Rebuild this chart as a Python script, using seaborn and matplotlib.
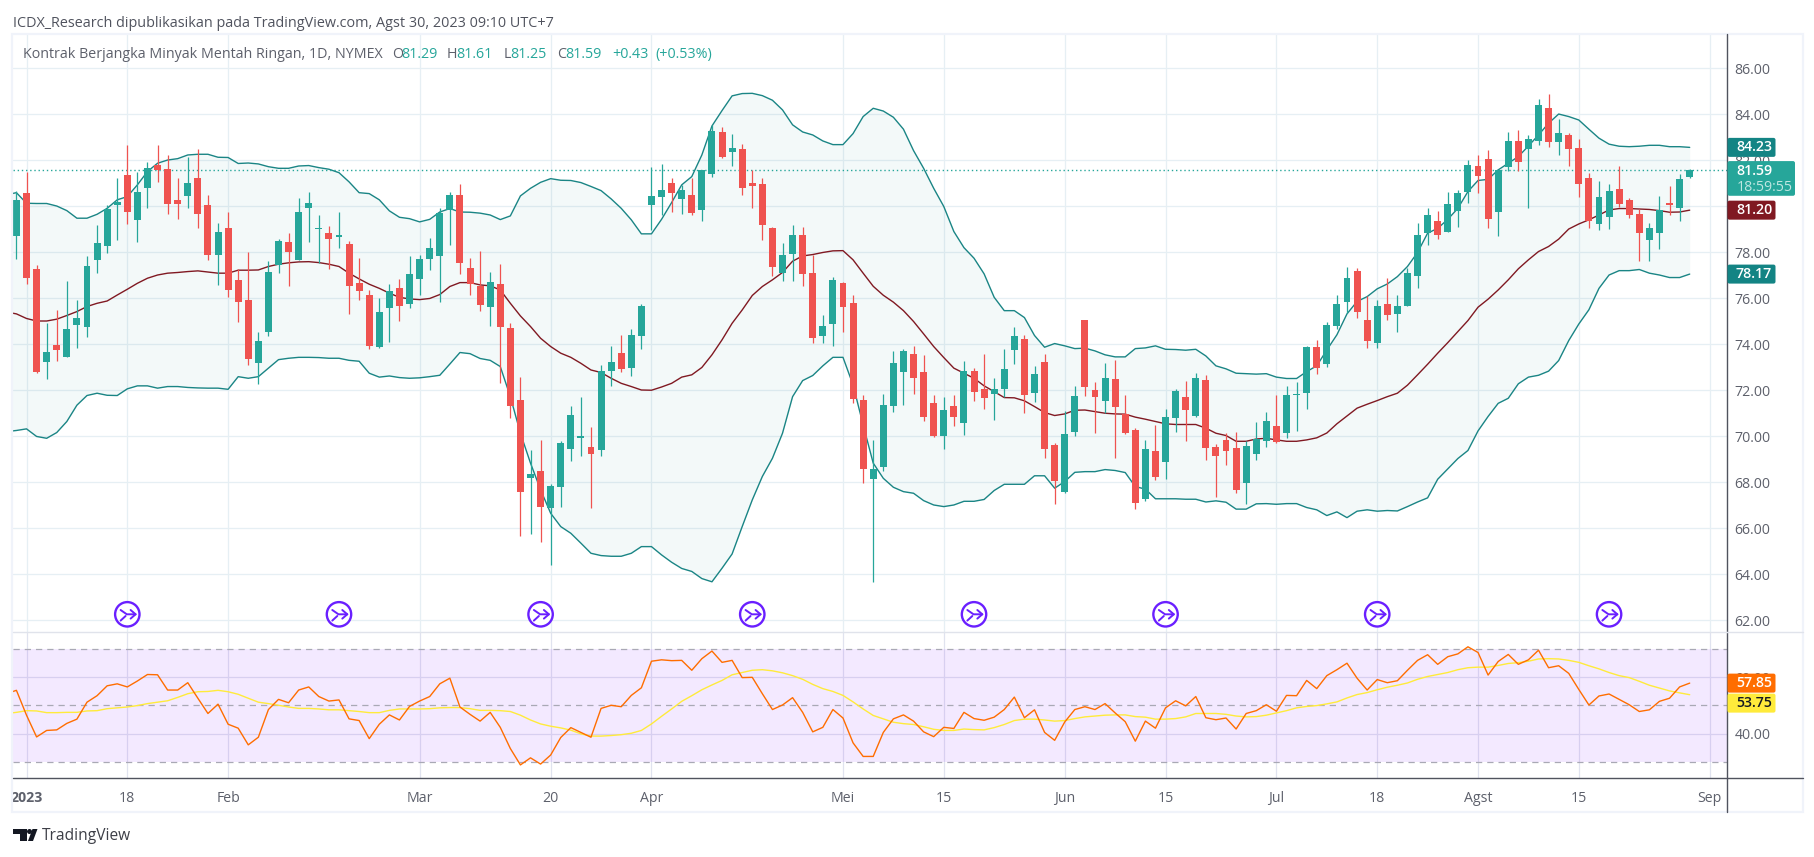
import matplotlib
matplotlib.use("Agg")
import matplotlib.pyplot as plt
import seaborn as sns
import pandas as pd
from matplotlib.patches import Rectangle, FancyBboxPatch, Circle, Polygon

sns.set_theme(style="white")
plt.rcParams["font.family"] = ["Open Sans", "DejaVu Sans"]

OPEN = [78.71,80.57,77.26,73.23,73.97,73.45,74.84,74.75,77.67,78.28,80.06,81.36,79.41,80.8,81.8,81.62,80.28,80.45,81.23,80.06,
77.88,79.06,76.8,75.93,73.19,74.54,77.45,78.45,77.67,79.93,79.02,78.84,78.67,78.36,76.67,76.14,73.88,75.58,76.45,75.75,
76.84,77.71,77.84,79.84,80.49,77.32,76.54,75.62,76.62,74.71,71.58,68.19,68.49,66.88,67.8,69.45,69.94,69.54,69.41,72.84,
73.62,72.97,74.36,80.06,80.41,81.01,80.32,80.49,79.84,81.41,83.23,82.36,82.49,81.01,80.97,79.06,77.1,77.93,78.75,77.1,
74.36,74.88,76.67,75.8,71.58,68.14,68.67,71.32,72.8,73.58,72.8,71.45,70.01,71.32,70.58,72.84,72.06,71.84,72.06,73.75,
74.23,71.88,73.23,69.62,67.58,70.19,75.06,72.01,71.54,72.49,70.97,70.28,67.28,69.36,68.88,70.8,71.71,70.88,72.45,69.54,
69.84,69.49,67.97,69.23,69.8,70.45,70.14,71.8,71.88,73.88,73.14,74.8,75.84,77.19,75.06,74.06,75.75,75.32,75.67,76.97,
78.84,79.36,78.88,79.8,80.62,81.75,82.06,79.75,81.71,82.84,82.49,82.84,84.28,82.8,83.1,82.54,81.23,79.23,79.54,80.75,
80.28,79.67,78.54,78.84,80.14,79.93,81.29]
HIGH = [80.68,81.51,77.43,74.94,75.49,76.75,75.93,77.84,79.19,80.06,81.23,82.67,81.51,81.91,82.67,82.23,81.23,82.16,82.49,80.49,
79.28,79.75,77.26,78.01,74.54,77.61,78.59,78.84,80.36,80.62,79.62,79.14,79.75,78.49,77.75,76.36,76.01,76.62,76.84,77.84,
77.88,78.62,79.93,80.62,80.97,77.75,78.06,77.14,77.49,74.93,72.58,69.41,69.84,67.93,69.8,71.32,71.71,70.41,73.1,73.93,
74.41,74.67,75.74,81.71,81.84,81.23,80.93,81.23,81.57,83.54,83.45,83.14,82.71,81.57,81.23,79.1,78.41,79.19,79.1,77.88,
75.28,76.93,76.71,76.14,71.8,69.84,71.84,73.71,73.8,73.93,73.54,71.8,71.71,71.8,73.28,72.97,73.58,72.54,73.8,74.75,
74.41,73.07,73.58,69.71,71.1,72.19,75.06,72.36,73.19,73.32,71.8,70.36,69.84,70.49,71.19,72.06,72.41,72.74,72.67,69.67,
70.13,70.19,69.8,70.62,71.06,71.8,72.19,72.36,73.93,74.19,74.97,76.14,77.36,77.32,76.1,75.93,76.88,76.14,77.32,79.28,
79.93,79.8,80.62,80.71,82.01,82.23,82.45,81.57,83.23,83.32,83.1,84.67,84.88,83.8,83.19,82.93,81.45,81.1,80.97,81.75,
80.36,79.88,79.28,80.45,80.88,81.41,81.61]
LOW = [77.72,76.62,72.77,72.49,73.28,73.45,73.84,74.32,77.09,77.96,78.54,79.23,78.45,79.93,81.06,79.67,79.45,79.93,79.06,77.67,
76.58,76.07,74.97,73.1,72.28,74.36,77.09,76.54,77.67,78.45,77.52,77.28,78.19,75.32,75.93,73.8,73.84,74.1,75.01,75.58,
76.14,77.23,75.84,78.32,77.06,76.14,75.45,74.8,72.32,70.8,65.67,65.75,65.41,64.41,66.93,68.93,69.14,66.86,69.14,72.19,
72.8,72.62,73.8,78.97,79.62,79.75,79.65,79.62,79.36,81.28,82.1,81.75,80.49,79.93,78.54,76.97,76.75,76.75,76.54,74.06,
74.06,73.93,74.54,71.45,67.97,63.67,68.49,71.06,71.36,71.84,70.67,69.97,69.45,70.45,70.06,71.54,71.19,70.71,71.71,73.14,
71.01,71.49,69.06,67.06,67.54,70.01,71.75,70.14,71.01,69.06,70.1,66.84,67.19,68.1,68.14,70.19,69.8,70.84,68.97,67.36,
68.75,67.54,67.06,68.97,69.54,69.71,69.93,70.23,71.19,72.71,73.01,74.67,75.35,75.14,73.84,73.84,75.06,74.54,75.67,76.45,
78.32,78.58,78.88,79.1,80.14,80.58,79.06,78.71,81.54,81.54,79.93,82.67,82.58,82.23,81.75,80.41,79.06,78.97,79.01,79.97,
79.49,77.62,77.62,78.14,79.62,79.36,81.25]
CLOSE = [80.28,76.90,72.81,73.67,73.75,74.67,75.14,77.41,78.41,79.88,80.19,79.75,80.62,81.67,81.58,80.1,80.1,81.01,79.67,77.88,
78.88,76.36,75.84,73.36,74.14,77.14,78.49,78.01,79.75,80.14,79.06,78.58,78.75,76.54,76.32,73.93,75.41,76.32,75.67,77.06,
77.71,78.19,79.71,80.49,77.54,76.62,75.71,76.71,74.75,71.32,67.58,68.36,66.93,67.84,69.71,70.93,69.97,69.23,72.84,73.23,
72.93,74.41,75.67,80.45,80.71,80.58,80.71,79.71,81.57,83.28,82.14,82.54,80.8,80.88,79.19,77.36,77.88,78.75,77.06,74.28,
74.8,76.8,75.62,71.62,68.58,68.58,71.36,73.19,73.71,72.54,70.84,70.01,71.14,70.84,72.84,71.93,71.67,72.06,72.93,74.36,
71.8,72.71,69.45,68.06,70.1,71.75,72.14,71.71,72.54,71.28,70.14,67.1,69.45,68.23,70.84,71.97,71.14,72.54,69.49,69.14,
69.36,67.67,69.58,69.88,70.67,69.75,71.8,71.83,73.88,72.97,74.84,75.75,76.88,75.41,74.14,75.67,75.28,75.67,77.1,78.75,
79.62,78.75,80.1,80.58,81.8,81.32,79.45,81.57,82.84,81.93,82.93,84.41,82.8,83.19,82.49,80.97,79.36,80.41,80.67,80.1,
79.62,78.84,79.06,79.84,80.06,81.19,81.59]

BB_UPPER = [80.5,80.59,80.13,80.12,80.12,80.01,79.81,79.48,79.48,79.65,79.91,80.28,80.42,80.93,81.51,81.87,82.01,82.07,82.23,82.26,82.26,
82.13,82.12,81.86,81.88,81.84,81.72,81.65,81.65,81.75,81.77,81.68,81.61,81.46,81.06,80.59,80.55,80.28,79.8,79.52,79.46,
79.32,79.43,79.75,79.9,79.75,79.74,79.7,79.62,79.42,79.58,80.45,80.78,81.04,81.2,81.13,81.12,81.03,80.86,80.68,80.32,
79.91,79.41,78.8,78.8,79.43,80.16,80.93,81.29,82.23,83.49,84.16,84.8,84.9,84.91,84.81,84.61,84.19,83.54,83.23,83.1,
82.84,82.68,82.68,83.16,83.9,84.26,84.14,83.87,83.35,82.42,81.65,80.78,79.99,78.9,78.2,77.74,77.06,76.04,75.46,75.46,
75.16,74.38,73.87,74.03,73.93,73.81,73.83,73.71,73.54,73.45,73.45,73.81,73.84,73.93,73.78,73.77,73.74,73.78,73.49,73.06,
72.93,72.74,72.72,72.7,72.72,72.57,72.51,72.51,72.81,73.06,73.75,74.41,75.32,75.86,76.07,76.41,76.62,76.94,77.38,77.99,
78.83,79.04,79.43,79.91,80.64,81.12,81.17,81.58,81.87,82.16,82.62,83.1,83.61,84.01,83.9,83.75,83.35,82.96,82.7,82.61,
82.59,82.61,82.65,82.65,82.59,82.59,82.56]
BB_BASIS = [75.4,75.32,75.12,75.01,75.01,75.09,75.25,75.42,75.64,75.78,75.88,76.14,76.39,76.65,76.87,77.01,77.09,77.12,77.16,77.19,77.14,
77.09,77.09,77.22,77.22,77.23,77.38,77.48,77.54,77.58,77.59,77.55,77.48,77.38,77.09,76.84,76.61,76.43,76.22,76.04,75.97,
75.94,75.99,76.16,76.51,76.68,76.68,76.58,76.54,76.36,75.78,75.23,74.77,74.26,73.9,73.61,73.43,73.17,72.88,72.77,72.52,
72.3,72.16,72.01,72.0,72.14,72.3,72.57,72.67,72.99,73.54,74.19,74.91,75.49,76.12,76.51,76.8,77.12,77.61,77.84,77.9,
77.99,78.06,78.07,77.67,77.09,76.52,76.13,75.83,75.46,74.99,74.45,73.9,73.42,72.96,72.74,72.52,72.19,71.94,71.68,71.67,
71.54,71.29,71.03,70.9,70.97,71.13,71.14,71.07,71.0,70.97,70.96,70.83,70.74,70.64,70.54,70.51,70.51,70.51,70.35,70.13,
70.03,69.78,69.78,69.88,69.91,69.84,69.78,69.78,69.84,69.93,70.14,70.54,70.88,71.22,71.39,71.55,71.72,71.87,72.22,72.67,
73.13,73.61,74.07,74.55,75.03,75.61,75.96,76.36,76.8,77.28,77.67,78.03,78.25,78.57,79.01,79.23,79.41,79.62,79.84,79.9,
79.9,79.88,79.86,79.81,79.74,79.75,79.83]
BB_LOWER = [70.2,70.25,70.32,69.99,69.91,70.16,70.64,71.35,71.77,71.87,71.78,71.77,72.06,72.19,72.19,72.09,72.16,72.16,72.12,72.1,72.09,
72.09,72.04,72.59,72.52,72.59,72.96,73.33,73.39,73.43,73.43,73.42,73.39,73.39,73.3,73.26,72.74,72.57,72.62,72.55,72.52,
72.54,72.59,72.65,73.14,73.64,73.59,73.38,73.3,73.03,71.72,70.13,68.83,67.67,66.65,66.07,65.78,65.35,64.91,64.81,64.78,
64.78,64.91,65.2,65.2,64.84,64.52,64.25,64.12,63.81,63.67,64.26,64.88,66.07,67.23,68.25,69.04,70.13,71.72,72.42,72.64,
73.06,73.43,73.43,72.23,70.49,68.83,68.17,67.78,67.59,67.52,67.2,67.01,66.94,67.01,67.17,67.17,67.25,67.64,67.91,67.91,
67.91,68.28,68.28,67.74,68.03,68.43,68.46,68.46,68.55,68.51,68.42,67.81,67.7,67.28,67.28,67.28,67.26,67.26,67.14,67.19,
67.13,66.83,66.83,67.06,67.07,67.04,67.07,67.07,66.9,66.8,66.55,66.71,66.46,66.74,66.8,66.74,66.77,66.75,66.94,67.14,
67.32,68.13,68.58,69.03,69.38,70.23,70.86,71.43,71.65,72.28,72.57,72.65,72.83,73.29,74.16,74.88,75.5,76.43,77.01,77.2,
77.2,77.25,77.09,77.01,76.9,76.9,77.05]
RSI = [54.1,55.3,46.5,38.8,41.1,41.3,43.6,45.1,51.1,53.4,56.9,57.6,56.5,58.6,60.9,60.8,55.4,55.4,58.0,52.5,47.1,
50.4,43.3,41.9,36.0,38.7,48.5,52.1,50.9,55.4,56.5,53.1,51.5,51.9,45.2,44.6,38.2,43.3,46.6,44.8,49.6,
51.5,53.1,57.6,59.6,49.4,46.8,44.4,47.5,42.2,34.7,28.9,31.4,29.2,32.4,38.6,42.1,40.4,38.7,48.9,50.0,
49.5,53.5,56.2,65.6,66.1,65.8,65.9,62.4,66.5,69.2,65.2,65.9,59.8,59.9,54.1,48.5,50.1,52.7,47.5,40.6,
42.2,48.5,45.5,36.7,31.9,31.9,40.4,45.2,46.6,44.4,40.6,38.9,42.2,41.8,47.5,45.3,44.7,45.8,48.5,52.9,
45.6,48.4,40.4,37.6,44.1,48.5,49.5,48.5,50.6,47.3,44.2,37.3,44.4,41.9,49.1,51.6,49.8,53.1,45.6,44.9,
45.5,41.6,47.1,48.1,50.2,47.9,53.5,53.4,58.8,55.9,60.5,62.6,64.9,59.6,55.4,59.1,58.0,58.7,62.4,65.9,
67.9,64.5,67.2,68.2,70.7,68.7,60.7,65.5,68.0,64.5,66.1,69.5,63.3,64.0,61.3,55.6,50.1,53.3,54.0,52.1,
50.2,47.8,48.4,51.4,52.5,56.5,57.85]
RSI_MA = [47.1,47.5,48.1,48.0,47.4,47.4,47.5,47.5,48.0,48.1,48.8,49.1,49.4,49.9,50.6,51.1,51.6,52.8,54.1,54.8,54.9,
55.3,54.8,53.9,52.5,51.1,50.6,50.0,49.4,48.9,48.9,48.7,48.4,48.4,48.1,47.8,47.4,47.4,48.2,48.7,48.7,
48.7,48.8,49.1,49.2,49.2,48.8,48.2,48.2,48.1,47.8,46.5,44.8,43.4,42.6,42.0,41.2,39.9,39.1,39.1,39.3,
39.6,40.1,41.1,43.4,46.1,48.7,51.4,53.4,55.5,57.2,58.8,60.8,61.6,62.4,62.6,62.2,61.5,60.5,59.2,57.4,
55.9,54.9,53.5,51.2,48.7,46.4,45.2,44.0,43.5,43.2,42.4,41.5,41.1,41.1,41.6,41.4,41.3,42.1,43.2,44.6,
45.1,45.1,44.8,44.4,44.6,45.3,45.9,46.2,46.5,46.6,46.6,46.0,45.8,45.1,45.1,45.3,45.9,47.1,47.1,47.1,
46.8,46.2,45.9,46.0,46.5,47.3,48.1,49.1,49.6,49.9,50.5,51.2,52.6,53.8,54.5,55.5,56.4,57.1,57.9,59.2,
60.2,60.9,61.6,62.6,63.3,63.5,63.5,64.1,64.8,65.1,65.6,66.4,66.5,66.4,65.9,65.2,64.0,62.9,61.6,60.5,
59.8,58.5,57.1,56.1,55.1,54.4,53.75]

FIRST_BAR = -2
TICK_BARS = [0, 10, 20, 39, 52, 62, 81, 91, 103, 113, 124, 134, 144, 154, 167]
TICK_LABELS = ["2023", "18", "Feb", "Mar", "20", "Apr", "Mei", "15", "Jun", "15", "Jul", "18", "Agst", "15", "Sep"]
PRICE_TICKS = [62, 64, 66, 68, 70, 72, 74, 76, 78, 80, 82, 84, 86]
RSI_TICKS = [40, 60]
RSI_LEVELS = [30, 50, 70]
EVENT_BARS = [10, 31, 51, 72, 94, 113, 134, 157]
HEADER = "ICDX_Research dipublikasikan pada TradingView.com, Agst 30, 2023 09:10 UTC+7"
SYMBOL = "Kontrak Berjangka Minyak Mentah Ringan, 1D, NYMEX"
LAST_PRICE = 81.59

GREEN, RED = "#26a69a", "#ef5350"
BAND, BASIS, ORANGE, YELLOW = "#1a8585", "#801922", "#ff6d00", "#ffeb3b"
GRID, TXT, DARK = "#e6eff4", "#5d606b", "#50535e"
W, H = 1815, 857

lines = pd.DataFrame({"bar": range(FIRST_BAR, FIRST_BAR + len(RSI)), "upper": BB_UPPER, "basis": BB_BASIS,
                      "lower": BB_LOWER, "rsi": RSI, "ma": RSI_MA})
candles = pd.DataFrame({"bar": range(FIRST_BAR + 1, FIRST_BAR + 1 + len(OPEN)), "o": OPEN, "h": HIGH, "l": LOW, "c": CLOSE})
candles["color"] = [GREEN if c >= o else RED for o, c in zip(candles.o, candles.c)]

fig = plt.figure(figsize=(W / 100, H / 100), dpi=100, facecolor="white")


def pane(top, bottom, left=13, right=1727.5):
    return fig.add_axes([left / W, 1 - bottom / H, (right - left) / W, (bottom - top) / H])


ax = pane(34, 631.7)
rx = pane(631.7, 778.3)
XL = (-1.34, 168.75)
for a in (ax, rx):
    a.set_xlim(*XL)
    a.set_facecolor("white")
    a.set_axisbelow(True)
    a.grid(True, color=GRID, lw=0.9)
    for s in a.spines.values():
        s.set_visible(False)
    a.yaxis.tick_right()
    a.tick_params(axis="y", length=0, pad=5, labelsize=10.2, labelcolor=TXT)
    a.set_xticks(TICK_BARS)
    a.set_xlabel("")
ax.set_ylim(61.50, 87.49)
ax.set_yticks(PRICE_TICKS, [f"{v:.2f}" for v in PRICE_TICKS])
ax.tick_params(axis="x", length=0, labelbottom=False)

rx.set_ylim(24.16, 76.05)
rx.set_yticks(RSI_TICKS, [f"{v:.2f}" for v in RSI_TICKS])
rx.set_xticks(TICK_BARS, TICK_LABELS)
rx.tick_params(axis="x", length=0, pad=9, labelsize=10.2, labelcolor=TXT)
rx.get_xticklabels()[0].set_fontweight("bold")
rx.grid(True, color="#e0e3ef", lw=0.9)

# Bollinger band
ax.fill_between(lines.bar, lines.lower, lines.upper, color="#1a8c8c", alpha=0.05, lw=0, zorder=1)
sns.lineplot(data=lines, x="bar", y="upper", ax=ax, color=BAND, lw=1.0, zorder=2)
sns.lineplot(data=lines, x="bar", y="lower", ax=ax, color=BAND, lw=1.0, zorder=2)
sns.lineplot(data=lines, x="bar", y="basis", ax=ax, color=BASIS, lw=1.0, zorder=2)
ax.axhline(LAST_PRICE, color=GREEN, lw=1.0, ls=(0, (1, 2)), zorder=2)

# Candles
ax.vlines(candles.bar, candles.l, candles.h, colors=candles.color, lw=0.9, zorder=3)
bottoms = candles[["o", "c"]].min(axis=1)
heights = (candles.o - candles.c).abs().clip(lower=0.05)
ax.bar(candles.bar, heights, bottom=bottoms, width=0.69, color=candles.color, lw=0, zorder=4)
ax.set_xlabel("")
ax.set_ylabel("")

# RSI
rx.axhspan(RSI_LEVELS[0], RSI_LEVELS[-1], color="#7e00ff", alpha=0.085, lw=0, zorder=1)
for lv in RSI_LEVELS:
    rx.axhline(lv, color="#a9a9b5", lw=0.9, ls=(0, (5, 4)), zorder=2)
sns.lineplot(data=lines, x="bar", y="ma", ax=rx, color=YELLOW, lw=1.0, zorder=3)
sns.lineplot(data=lines, x="bar", y="rsi", ax=rx, color=ORANGE, lw=1.0, zorder=4)
rx.set_xlabel("")
rx.set_ylabel("")

# Overlay in pixel coordinates for the chrome of the page
ov = fig.add_axes([0, 0, 1, 1], zorder=5)
ov.set_xlim(0, W)
ov.set_ylim(H, 0)
ov.axis("off")
ov.patch.set_visible(False)


def py(a, v):
    return H - a.transData.transform((0, v))[1]


def bx(b):
    return ax.transData.transform((b, 0))[0]


ov.add_patch(Rectangle((12.5, 34), 1790.5, 778, fill=False, ec="#f0f3fa", lw=1.6))
ov.plot([1727.5, 1727.5], [34, 812], color=DARK, lw=1.0)
ov.plot([13, 1803], [778.3, 778.3], color=DARK, lw=1.0)
ov.plot([13, 1803], [631.7, 631.7], color="#e0e3eb", lw=1.0)

# Event icons
for b in EVENT_BARS:
    cx, cy = bx(b), 614.3
    ov.add_patch(Circle((cx, cy), 12.2, fc="white", ec="#6a1fff", lw=1.7))
    ov.plot([cx - 6.7, cx - 0.5, cx + 8.3], [cy - 4.3, cy, cy], color="#6a1fff", lw=1.4)
    ov.plot([cx + 3.3, cx + 8.3, cx + 3.3], [cy - 4.3, cy, cy + 4.3], color="#6a1fff", lw=1.4)
    ov.plot([cx - 6.7, cx - 1.7], [cy + 6.3, cy + 1.7], color="#6a1fff", lw=1.4)

# Header and legend
HFS = 10.4
ov.text(13, 23.5, HEADER, fontsize=HFS, color="#50535e", va="center", ha="left")
ov.text(23.5, 54, SYMBOL, fontsize=10.25, color="#5d606b", va="center", ha="left")
for x, lab, gap, val in [(392, "O", 9.5, "81.29"), (447, "H", 9.0, "81.61"), (504, "L", 6.5, "81.25"), (557, "C", 8.0, "81.59")]:
    ov.text(x, 54, lab, fontsize=10.25, color="#5d606b", va="center", ha="left")
    ov.text(x + gap, 54, val, fontsize=10.25, color=GREEN, va="center", ha="left")
ov.text(612, 54, "+0.43", fontsize=10.25, color=GREEN, va="center", ha="left")
ov.text(655, 54, "(+0.53%)", fontsize=10.25, color=GREEN, va="center", ha="left")


def pill(yc, text, fc, tc="white", right=1776.5, h=19):
    ov.add_patch(FancyBboxPatch((1728.5, yc - h / 2 + 1), right - 1730.5, h - 2, boxstyle="round,pad=1,rounding_size=2",
                                fc=fc, ec="none", zorder=6))
    ov.text(1736, yc, text, fontsize=10.2, color=tc, va="center", ha="left", fontweight="semibold", zorder=7)


pill(py(ax, BB_UPPER[-1]), "84.23", "#138484")
pill(py(ax, BB_BASIS[-1]), "81.20", BASIS)
pill(py(ax, BB_LOWER[-1]), "78.17", "#138484")
yc = py(ax, LAST_PRICE)
ov.add_patch(FancyBboxPatch((1728.5, yc - 7.6), 65.5, 32.7, boxstyle="round,pad=1,rounding_size=2", fc=GREEN, ec="none", zorder=6))
ov.text(1736, yc + 1, "81.59", fontsize=10.2, color="white", va="center", ha="left", fontweight="semibold", zorder=7)
ov.text(1737, yc + 17.5, "18:59:55", fontsize=10.2, color="#bfe6e1", va="center", ha="left", zorder=7)
y_rsi = py(rx, RSI[-1])
pill(y_rsi, "57.85", ORANGE)
pill(y_rsi + 20, "53.75", YELLOW, tc="#131722")

# TradingView mark
ov.add_patch(Polygon([(13, 829), (27, 829), (27, 841), (20, 841), (20, 834), (13, 834)], fc="#131722", ec="none"))
ov.add_patch(Circle((29.5, 831.5), 2.5, fc="#131722", ec="none"))
ov.add_patch(Polygon([(32.5, 829), (37.5, 829), (33, 841), (28, 841)], fc="#131722", ec="none"))
ov.text(42, 835.5, "TradingView", fontsize=11.2, color="#3d3f47", va="center", ha="left")

fig.savefig("out.png", dpi=100)
